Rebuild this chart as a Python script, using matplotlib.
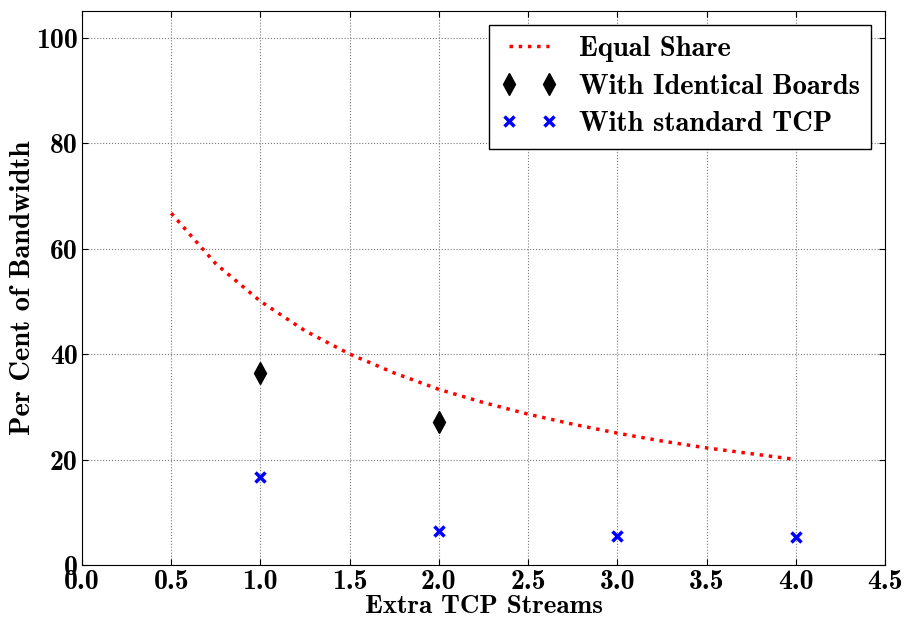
import matplotlib
matplotlib.use("Agg")
import matplotlib.pyplot as plt

# ---- data ----
share_x = [0.5, 0.75, 1.0, 1.25, 1.5, 1.75, 2.0, 2.25, 2.5, 2.75, 3.0, 3.25, 3.5, 3.75, 4.0]
share_y = [66.7, 57.1, 50.0, 44.4, 40.0, 36.4, 33.3, 30.8, 28.6, 26.7, 25.0, 23.5, 22.2, 21.1, 20.0]

boards_x = [1, 2]
boards_y = [36.4, 27.1]

tcp_x = [1, 2, 3, 4]
tcp_y = [16.7, 6.4, 5.5, 5.3]

plt.rcParams['font.family'] = ['cmb10', 'DejaVu Serif']
plt.rcParams['axes.formatter.use_mathtext'] = True
plt.rcParams['mathtext.fontset'] = 'cm'

fig = plt.figure(figsize=(9.07, 6.18), dpi=100)
ax = fig.add_axes([0.0904, 0.0858, 0.8854, 0.896])

ax.plot(share_x, share_y, ':', color='red', linewidth=2.5, label='Equal Share')
ax.plot(boards_x, boards_y, 'd', color='black', markersize=11, label='With Identical Boards')
ax.plot(tcp_x, tcp_y, 'x', color='blue', markersize=7, markeredgewidth=2.5,
        label='With standard TCP')

ax.set_xlim(0, 4.5)
ax.set_ylim(0, 105)
ax.set_xticks([0.0, 0.5, 1.0, 1.5, 2.0, 2.5, 3.0, 3.5, 4.0, 4.5])
ax.set_xticklabels(['0.0', '0.5', '1.0', '1.5', '2.0', '2.5', '3.0', '3.5', '4.0', '4.5'])
ax.set_yticks([0, 20, 40, 60, 80, 100])
ax.set_yticklabels(['0', '20', '40', '60', '80', '100'])
ax.tick_params(direction='in', labelsize=20, top=True, right=True, length=4, pad=3)
ax.grid(True, color='#777777', linestyle=':', linewidth=0.8)

ax.set_xlabel('Extra TCP Streams', fontsize=19.5, labelpad=0)
ax.set_ylabel('Per Cent of Bandwidth', fontsize=20.5, labelpad=0)

leg = ax.legend(loc='upper right', borderaxespad=0.48,
                numpoints=2, fontsize=20.6, fancybox=False, framealpha=1,
                edgecolor='black', handlelength=2.0, handletextpad=0.75,
                labelspacing=0.4, borderpad=0.4)
leg.get_frame().set_linewidth(1.0)

fig.savefig('out.png', dpi=100)
